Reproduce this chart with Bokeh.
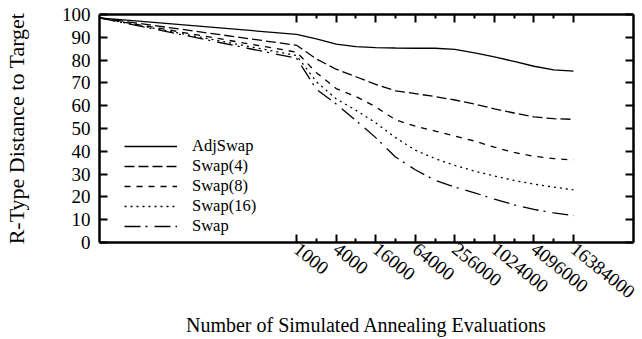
import math
from bokeh.plotting import figure
from bokeh.models import Range1d, FixedTicker, PrintfTickFormatter, LogAxis, LinearAxis
from bokeh.embed import file_html
from bokeh.resources import INLINE

# ---- data ----
evals = [1, 1000, 2000, 4000, 8000, 16000, 32000, 64000, 128000, 256000,
         512000, 1024000, 2048000, 4096000, 8192000, 16384000]
adjswap = [98.5, 91.3, 89.3, 87.0, 85.9, 85.5, 85.3, 85.2, 85.2, 84.7, 83.2, 81.4, 79.4, 77.3, 75.7, 75.2]
swap4 = [98.5, 86.5, 80.5, 76.0, 72.7, 69.4, 66.5, 65.3, 64.0, 62.5, 60.7, 58.6, 56.8, 55.1, 54.3, 54.0]
swap8 = [98.5, 83.5, 74.5, 67.5, 64.0, 59.5, 53.8, 51.0, 48.9, 46.7, 44.5, 41.8, 39.5, 37.8, 36.8, 36.2]
swap16 = [98.5, 82.0, 70.5, 63.0, 58.0, 52.5, 46.0, 40.5, 36.8, 33.8, 31.3, 29.2, 27.2, 25.6, 24.3, 23.1]
swap = [98.5, 80.8, 67.2, 60.7, 53.5, 46.0, 37.5, 31.9, 27.3, 24.3, 21.8, 19.0, 16.5, 14.5, 13.0, 11.8]

series_names = ["AdjSwap", "Swap(4)", "Swap(8)", "Swap(16)", "Swap"]
series_values = [adjswap, swap4, swap8, swap16, swap]
series_dash = ["solid", "10 4", "6 6", "2 4", "16 5 2 7"]

x_major = [1000, 4000, 16000, 64000, 256000, 1024000, 4096000, 16384000]
x_minor = [2000, 8000, 32000, 128000, 512000, 2048000, 8192000]
y_ticks = [0, 10, 20, 30, 40, 50, 60, 70, 80, 90, 100]
x_title = "Number of Simulated Annealing Evaluations"
y_title = "R-Type Distance to Target"

FONT = "Liberation Serif"

p = figure(width=642, height=339, x_axis_type="log",
           x_range=Range1d(1, 2 ** 27), y_range=Range1d(0, 100),
           output_backend="svg", toolbar_location=None,
           min_border_left=97, min_border_right=9, min_border_top=14, min_border_bottom=96)
p.outline_line_color = None
p.grid.visible = False
p.background_fill_color = "white"
p.border_fill_color = "white"

for name, vals, dash in zip(series_names, series_values, series_dash):
    p.line(evals, vals, line_color="black", line_width=1.3, line_dash=dash, legend_label=name)

def style_x(ax, labels=True):
    ax.ticker = FixedTicker(ticks=x_major, minor_ticks=x_minor)
    ax.formatter = PrintfTickFormatter(format="%d")
    ax.axis_line_width = 2.5
    ax.major_tick_in = 8
    ax.major_tick_out = 0
    ax.minor_tick_in = 4
    ax.minor_tick_out = 0
    ax.major_tick_line_width = 2
    ax.minor_tick_line_width = 2
    ax.major_label_text_font = FONT
    if labels:
        ax.major_label_text_color = "black"
        ax.major_label_text_font_size = "19px"
        ax.major_label_orientation = -0.68
        ax.major_label_standoff = 4
    else:
        ax.major_label_text_color = None
        ax.major_label_text_font_size = "1px"
        ax.major_label_standoff = 0

def style_y(ax, labels=True):
    ax.ticker = FixedTicker(ticks=y_ticks, minor_ticks=[])
    ax.axis_line_width = 2.5
    ax.major_tick_in = 8
    ax.major_tick_out = 0
    ax.minor_tick_in = 0
    ax.minor_tick_out = 0
    ax.major_tick_line_width = 2
    ax.major_label_text_font = FONT
    if labels:
        ax.major_label_text_color = "black"
        ax.major_label_text_font_size = "19px"
        ax.major_label_standoff = 9
    else:
        ax.major_label_text_color = None
        ax.major_label_text_font_size = "1px"
        ax.major_label_standoff = 0

style_x(p.xaxis[0])
p.xaxis[0].axis_label = x_title
p.xaxis[0].axis_label_text_font = FONT
p.xaxis[0].axis_label_text_font_size = "20px"
p.xaxis[0].axis_label_text_font_style = "normal"
p.xaxis[0].axis_label_text_color = "black"
p.xaxis[0].axis_label_standoff = 7

style_y(p.yaxis[0])
p.yaxis[0].axis_label = y_title
p.yaxis[0].axis_label_text_font = FONT
p.yaxis[0].axis_label_text_font_size = "22px"
p.yaxis[0].axis_label_text_font_style = "normal"
p.yaxis[0].axis_label_text_color = "black"
p.yaxis[0].axis_label_standoff = 30

top = LogAxis()
style_x(top, labels=False)
p.add_layout(top, "above")
right = LinearAxis()
style_y(right, labels=False)
p.add_layout(right, "right")

lg = p.legend[0]
lg.location = (25, 6)
lg.border_line_color = None
lg.background_fill_alpha = 0
lg.padding = 0
lg.margin = 0
lg.spacing = 0
lg.glyph_width = 53
lg.glyph_height = 16
lg.label_height = 16
lg.label_standoff = 15
lg.label_text_font = FONT
lg.label_text_font_size = "16.5px"
lg.label_text_color = "black"

open("out.html", "w").write(file_html(p, INLINE))
